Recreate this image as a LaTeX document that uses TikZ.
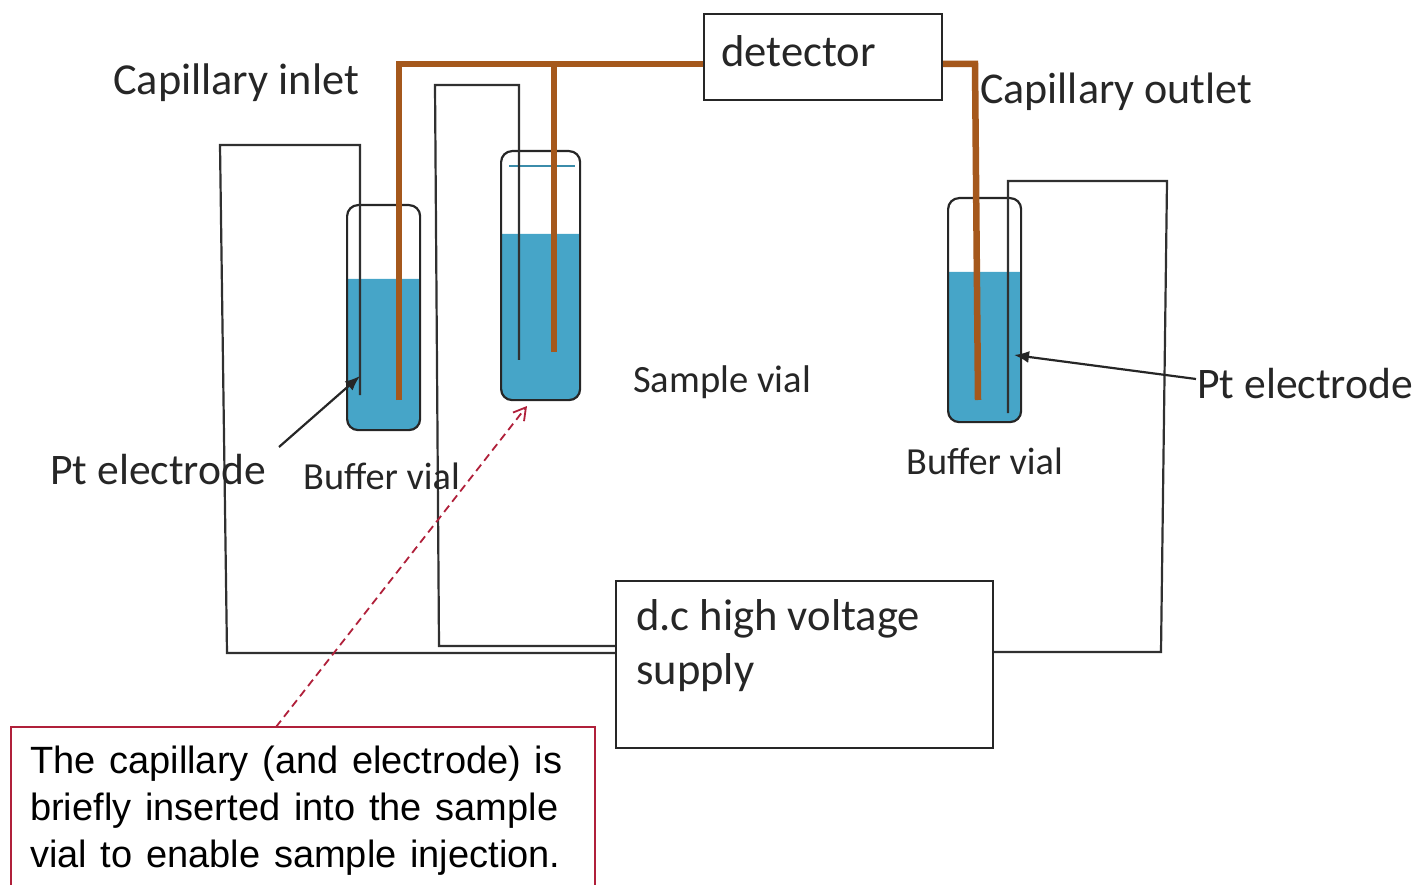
\documentclass[tikz,border=0pt]{standalone}
\usepackage{fontspec}
\setmainfont{Carlito}
\newfontfamily\notefont[WordSpace=1.3]{Liberation Sans}
\usetikzlibrary{arrows.meta}
\definecolor{liquid}{HTML}{46A5C8}
\definecolor{capbrown}{HTML}{A5581C}
\definecolor{wiregray}{HTML}{303030}
\definecolor{notered}{HTML}{B0203A}
\tikzset{
  >= latex,
  vl/.style={draw=black!85, line width=2.2pt, rounded corners=11pt, inner sep=0pt, anchor=north west},
  bx/.style={draw=black!85, line width=2pt, inner sep=0pt, anchor=north west},
  lb/.style={inner sep=0pt, anchor=base west, text=black!85, font=\fontsize{#1}{#1}\selectfont},
  nl/.style={inner sep=0pt, anchor=base west, text=black, font=\notefont\fontsize{38}{38}\selectfont},
  cp/.style={draw=capbrown, line width=6.5pt, line join=miter},
  wr/.style={draw=wiregray, line width=2.2pt},
  pt/.style={-{Latex[length=15pt,width=12pt]}, line width=2.2pt, black!85}
}

\begin{document}
\begin{tikzpicture}[x=1pt, y=-1pt]
  \useasboundingbox (0,0) rectangle (1414,885);
  % liquid
  \fill[liquid, rounded corners=11pt] (347,279) [sharp corners] -- (420,279) [rounded corners=11pt] -- (420,430) -- (347,430) [sharp corners] -- cycle;
  \fill[liquid, rounded corners=11pt] (501,234) [sharp corners] -- (580,234) [rounded corners=11pt] -- (580,400) -- (501,400) [sharp corners] -- cycle;
  \fill[liquid, rounded corners=11pt] (948,272) [sharp corners] -- (1021,272) [rounded corners=11pt] -- (1021,422) -- (948,422) [sharp corners] -- cycle;
  % vials
  \node[vl, minimum width=73pt, minimum height=225pt] (lv) at (346,204) {};
  \node[vl, minimum width=79pt, minimum height=249pt] (sv) at (500,150) {};
  \node[vl, minimum width=73pt, minimum height=224pt] (rv) at (947,197) {};
  \coordinate (ml) at (509,166);
  \coordinate (mr) at (575,166);
  \draw[liquid!85!black, line width=1.6pt] (ml) -- (mr);
  % boxes
  \node[bx, minimum width=238pt, minimum height=86pt] (det) at (703,13) {};
  \node[bx, minimum width=377pt, minimum height=167pt] (hv) at (615,580) {};
  \node[draw=notered, line width=2.4pt, inner sep=0pt, anchor=north west, minimum width=584pt, minimum height=170pt] (nt) at (10,726) {};
  % wires
  \coordinate (le) at (360,395);
  \coordinate (se) at (519,360);
  \coordinate (re) at (1008,413);
  \draw[wr] (le) -- (360,145) -- (220,145) -- (227,653) -- (hv.west |- 0,653);
  \draw[wr] (se) -- (519,85) -- (435,85) -- (439,646) -- (hv.west |- 0,646);
  \draw[wr] (re) -- (1008,181) -- (1167,181) -- (1161,652) -- (hv.east |- 0,652);
  % capillary
  \coordinate (lc) at (399,400);
  \coordinate (sc) at (554,352);
  \coordinate (rc) at (978,400);
  \draw[cp] (lc) -- (399,64) -- (det.west |- 0,64);
  \draw[cp] (sc) -- (554,64);
  \draw[cp] (det.east |- 0,64) -- (975,64) -- (rc);
  % labels
  \node[lb=44.3] (inl) at (113,95) {Capillary inlet};
  \node[lb=44] (outl) at (980,104) {Capillary outlet};
  \node[lb=44.6] (dtx) at (721,67) {detector};
  \node[lb=38.6] (samp) at (633,392.5) {Sample vial};
  \node[lb=43.6] (ptl) at (50,484) {Pt electrode};
  \node[lb=43.6] (ptr) at (1197,399) {Pt electrode};
  \node[lb=38.3] (bfl) at (303,489) {Buffer vial};
  \node[lb=38.3] (bfr) at (906,474) {Buffer vial};
  \node[lb=44.6] (hv1) at (636,630) {d.c high voltage};
  \node[lb=44.6] (hv2) at (636,684) {supply};
  \node[nl] (nt1) at (30,773) {The capillary (and electrode) is};
  \node[nl] (nt2) at (30,820) {briefly inserted into the sample};
  \node[nl] (nt3) at (30,867) {vial to enable sample injection.};
  % arrows
  \coordinate (pa) at (279,447);
  \coordinate (pb) at (360,376);
  \coordinate (pc) at (1196,379);
  \coordinate (pd) at (1014,355);
  \draw[pt] (pa) -- (pb);
  \draw[pt] (pc) -- (pd);
  \coordinate (na) at (276,727);
  \coordinate (nb) at (527,406);
  \draw[-{Straight Barb[length=12pt,width=14pt]}, notered, dash pattern=on 8pt off 5pt, line width=1.8pt] (na) -- (nb);
\end{tikzpicture}
\end{document}
